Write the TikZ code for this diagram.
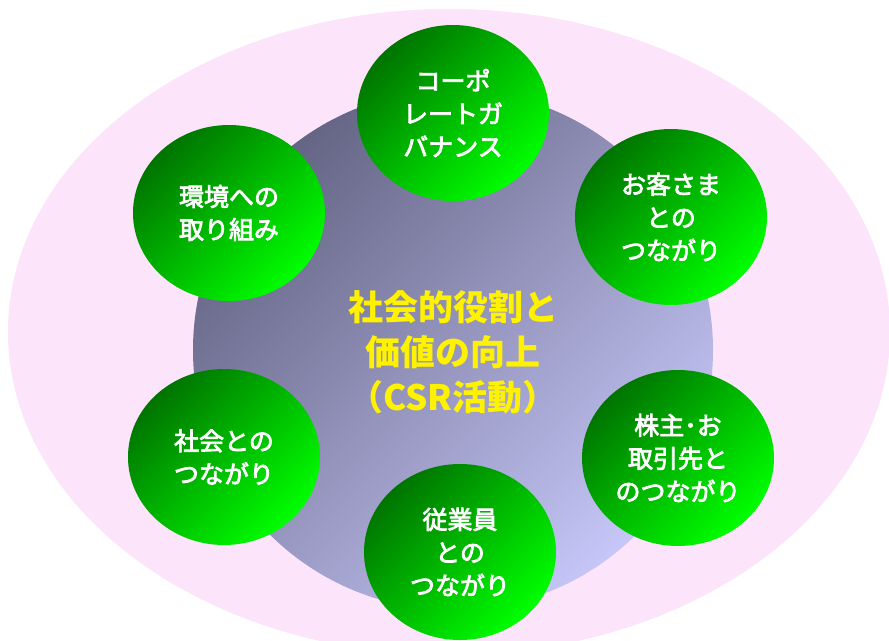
\documentclass[tikz,border=0pt]{standalone}
\usepackage{fontspec}
\usetikzlibrary{shapes.geometric}
\newfontfamily\jfont{Noto Sans CJK JP}
\newfontfamily\jfontm[FakeBold=3]{Noto Sans CJK JP}

\definecolor{usumomo}{RGB}{252,228,250}
\definecolor{naka1}{RGB}{100,100,132}
\definecolor{naka2}{RGB}{198,198,248}
\definecolor{midori1}{RGB}{0,116,0}
\definecolor{midori2}{RGB}{0,255,0}

\tikzset{
  maru/.style={ellipse, minimum width=192pt, minimum height=176pt, inner sep=0pt,
    top color=midori1, bottom color=midori2, shading angle=45,
    text=white, align=center, font=\jfontm\fontsize{25}{33}\selectfont},
  chuo/.style={text=yellow, align=center, font=\jfont\bfseries\fontsize{35}{45}\selectfont}
}

\begin{document}
\begin{tikzpicture}[x=1pt,y=-1pt]
  \useasboundingbox (0,0) rectangle (889,640);

  % 外側のだ円
  \fill[usumomo] (449,332) ellipse [x radius=441, y radius=323];

  % 中央の円
  \shade[top color=naka1, bottom color=naka2, shading angle=45]
    (453,350) circle [radius=260];
  \node[chuo] (csr) at (453,352) {社会的役割と\\価値の向上\\（CSR活動）};

  % まわりの六つ
  \node[maru] (kopo)   at (453,113) {コーポ\\レートガ\\バナンス};
  \node[maru] (kyaku)  at (671,217) {お客さま\\との\\つながり};
  \node[maru] (kabu)   at (678,458) {株主･お\\取引先と\\のつながり};
  \node[maru] (jugyo)  at (460,552) {従業員\\との\\つながり};
  \node[maru] (shakai) at (224,457) {社会との\\つながり};
  \node[maru] (kankyo) at (229,213) {環境への\\取り組み};

\end{tikzpicture}
\end{document}
